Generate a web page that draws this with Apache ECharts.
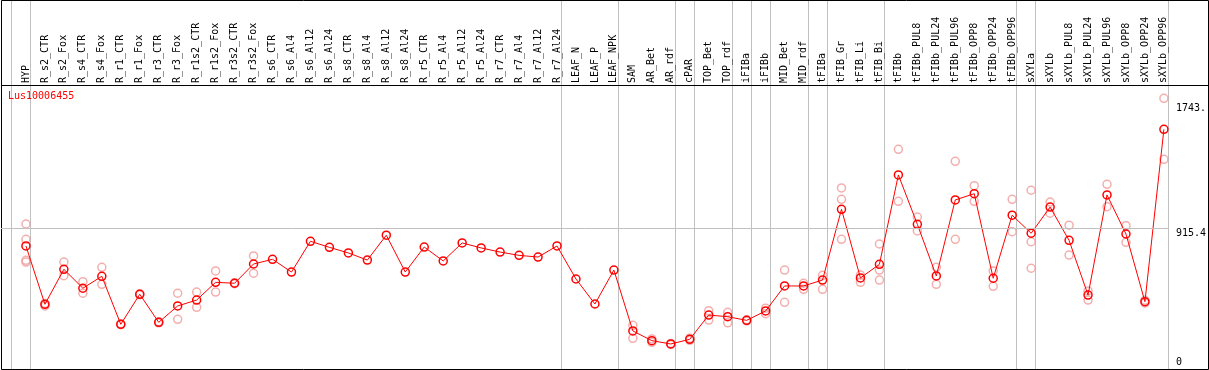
<!DOCTYPE html>
<html><head><meta charset="utf-8">
<script src="https://cdn.jsdelivr.net/npm/echarts@6/dist/echarts.min.js"></script>
<style>html,body{margin:0;padding:0;background:#fff}#c{width:1209px;height:370px}</style>
</head><body><div id="c"></div><script>
const chartTitle = 'Lus10006455';
const categories = ['HYP','R_s2_CTR','R_s2_Fox','R_s4_CTR','R_s4_Fox','R_r1_CTR','R_r1_Fox','R_r3_CTR','R_r3_Fox',
 'R_r1s2_CTR','R_r1s2_Fox','R_r3s2_CTR','R_r3s2_Fox','R_s6_CTR','R_s6_Al4','R_s6_Al12','R_s6_Al24',
 'R_s8_CTR','R_s8_Al4','R_s8_Al12','R_s8_Al24','R_r5_CTR','R_r5_Al4','R_r5_Al12','R_r5_Al24',
 'R_r7_CTR','R_r7_Al4','R_r7_Al12','R_r7_Al24','LEAF_N','LEAF_P','LEAF_NPK','SAM','AR_Bet','AR_rdf',
 'cPAR','TOP_Bet','TOP_rdf','iFIBa','iFIBb','MID_Bet','MID_rdf','tFIBa','tFIB_Gr','tFIB_Li','tFIB_Bi',
 'tFIBb','tFIBb_PUL8','tFIBb_PUL24','tFIBb_PUL96','tFIBb_OPP8','tFIBb_OPP24','tFIBb_OPP96',
 'sXYLa','sXYLb','sXYLb_PUL8','sXYLb_PUL24','sXYLb_PUL96','sXYLb_OPP8','sXYLb_OPP24','sXYLb_OPP96'];
const means = [799,414,645,520,599,282,480,295,403,442,559,553,680,711,627,830,790,753,706,870,627,792,700,819,786,
 759,737,726,799,581,416,640,238,174,152,183,343,332,308,370,535,535,574,1041,588,678,1268,942,601,1103,1144,586,1002,
 883,1056,836,475,1136,878,431,1569];
const replicates = [[944,843,704,693],[420,403],[693,603],[563,487],[658,546],[285,279],[483,477],[298,292],[487,315],
 [495,394],[634,495],[556,550],[733,619],[],[],[],[],[],[],[],[],[],[],[],[],[],[],[],[],[],[],[],
 [275,189],[185,163],[155,149],[190,176],[372,310],[361,292],[312,304],[388,352],[640,427],[553,513],[605,513],
 [1182,1107,843],[607,559],[812,640,574],[1437,1094],[990,898],[658,546],[1358,843],[1197,1094],[634,533],[1107,893],
 [1167,827,652],[1089,1015],[936,739],[502,442],[1206,1058],[933,823],[440,422],[1774,1371]];
const groupEnds = [-1,0,28,31,34,35,37,38,39,41,42,45,52,53,60];
const yTickValues = [0, 915.4, 1743];
const yTickLabels = ['0', '915.4', '1743.'];
const refLineValue = 915.4;

const FONT = 'DejaVu Sans Mono';
const separatorOffset = 0.25;
const chart = echarts.init(document.getElementById('c'), null, {renderer: 'canvas'});
const labelFor = v => yTickLabels[yTickValues.indexOf(v)];
const meanData = means.map((v, i) => [i, v]);
const repData = [];
replicates.forEach((arr, i) => arr.forEach(v => repData.push([i, v])));

const yBase = {
  type: 'value', position: 'right', min: -13.2, max: 1861.8,
  axisLine: {show: false}, axisTick: {show: false}, splitLine: {show: false}
};
chart.setOption({
  animation: false,
  backgroundColor: '#fff',
  title: {text: chartTitle, left: 8, top: 91, padding: 0,
    textStyle: {color: '#ff0000', fontSize: 10, fontFamily: FONT, fontWeight: 'normal'}},
  grid: {left: 1, right: 39, top: 85, bottom: 1},
  xAxis: {
    type: 'value', position: 'top', min: -25/19, max: 1144/19,
    axisLine: {show: false}, axisTick: {show: false}, splitLine: {show: false},
    axisLabel: {customValues: categories.map((_, i) => i), formatter: v => categories[Math.round(v)],
      rotate: 90, margin: 2, fontSize: 10, fontFamily: FONT, color: '#000'}
  },
  yAxis: [
    Object.assign({}, yBase, {axisLabel: {customValues: yTickValues.filter(v => v > 0), formatter: labelFor,
      verticalAlign: 'top', margin: 8, fontSize: 10, fontFamily: FONT, color: '#000'}}),
    Object.assign({}, yBase, {axisLabel: {customValues: yTickValues.filter(v => v <= 0), formatter: labelFor,
      verticalAlign: 'bottom', margin: 8, fontSize: 10, fontFamily: FONT, color: '#000'}})
  ],
  series: [
    {type: 'scatter', data: repData, symbol: 'circle', symbolSize: 8, z: 2,
      itemStyle: {color: 'rgba(0,0,0,0)', borderColor: '#f09a9a', borderWidth: 1.5},
      markLine: {silent: true, symbol: 'none', label: {show: false},
        lineStyle: {color: '#c0c0c0', width: 1, type: 'solid'}, data: [{yAxis: refLineValue}]}},
    {type: 'line', data: meanData, symbol: 'circle', symbolSize: 8, z: 3,
      lineStyle: {color: '#ff0000', width: 1},
      itemStyle: {color: 'rgba(0,0,0,0)', borderColor: '#ff0000', borderWidth: 1.5}}
  ]
});

const graphics = [];
groupEnds.forEach(g => {
  const x = Math.floor(chart.convertToPixel({xAxisIndex: 0}, g + separatorOffset)) + 0.5;
  graphics.push({type: 'line', shape: {x1: x, y1: 0, x2: x, y2: 369}, style: {stroke: '#c0c0c0', lineWidth: 1}, z: 0});
});
graphics.push({type: 'rect', shape: {x: 1.5, y: 0.5, width: 1207, height: 369}, style: {stroke: '#000', fill: null, lineWidth: 1}, z: 1});
graphics.push({type: 'line', shape: {x1: 1, y1: 85.5, x2: 1209, y2: 85.5}, style: {stroke: '#000', lineWidth: 1}, z: 1});
chart.setOption({graphic: graphics});
</script></body></html>
